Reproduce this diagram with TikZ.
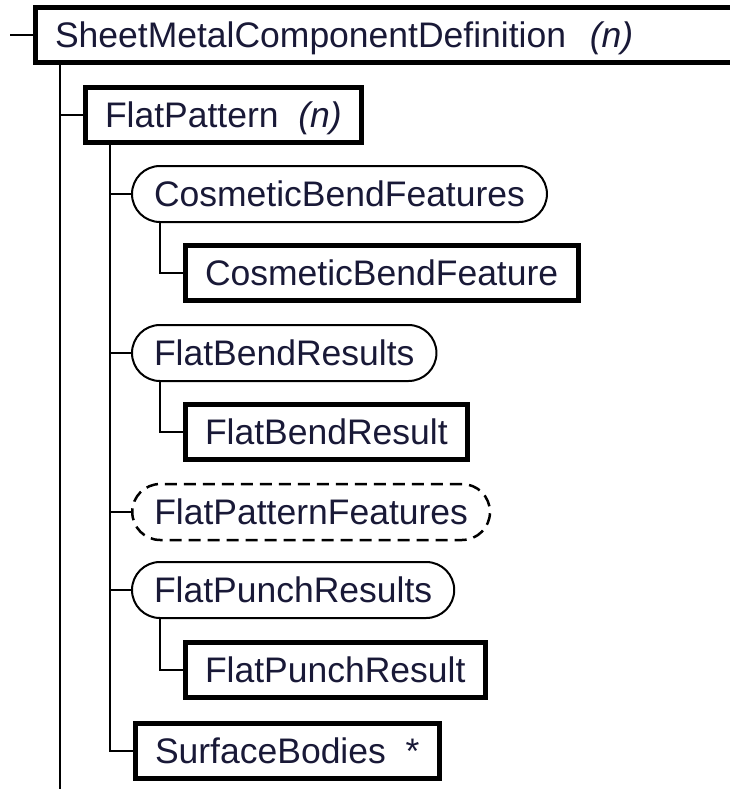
\documentclass[tikz,border=0pt]{standalone}
\usepackage{fontspec}
\setmainfont{Liberation Sans}
\definecolor{ink}{RGB}{25,25,55}
\begin{document}
\begin{tikzpicture}[x=1pt, y=-1pt,
    every node/.style={anchor=west, text=ink, font=\fontsize{35.5}{40}\selectfont,
        text height=25pt, text depth=0pt},
    elem/.style={draw, line width=5pt, inner xsep=20pt, minimum height=55pt},
    group/.style={draw, line width=2pt, inner xsep=22pt, minimum height=56pt, rounded corners=28pt},
    optgroup/.style={group, dash pattern=on 12pt off 7pt, line width=2.5pt},
    link/.style={line width=2pt}]
    \clip (0,0) rectangle (730,789);
    % tree of elements
    \node[elem, text width=700pt, align=left] (root) at (32.5,35) {SheetMetalComponentDefinition\ \ \textit{(n)}};
    \node[elem] (fp) at (82.5,115) {FlatPattern\ \ \textit{(n)}};
    \node[group] (cbfs) at (131,194) {CosmeticBendFeatures};
    \node[elem] (cbf) at (182.5,273) {CosmeticBendFeature};
    \node[group] (fbrs) at (131,353) {FlatBendResults};
    \node[elem] (fbr) at (182.5,432) {FlatBendResult};
    \node[optgroup] (fpf) at (131,512) {FlatPatternFeatures};
    \node[group] (fprs) at (131,590) {FlatPunchResults};
    \node[elem] (fpr) at (182.5,670) {FlatPunchResult};
    \node[elem] (sb) at (132.5,751) {SurfaceBodies\ \ *};
    \coordinate (lead) at (10,35);
    \coordinate (trunk) at (60,800);
    % connectors
    \draw[link] (lead) -- (root.west);
    \draw[link] ([xshift=27.5pt]root.south west) -- (trunk);
    \draw[link] ([xshift=27.5pt]root.south west) |- (fp.west);
    \foreach \c in {cbfs,fbrs,fpf,fprs,sb}
        \draw[link] ([xshift=27.5pt]fp.south west) |- (\c.west);
    \draw[link] ([xshift=29pt]cbfs.south west) |- (cbf.west);
    \draw[link] ([xshift=29pt]fbrs.south west) |- (fbr.west);
    \draw[link] ([xshift=29pt]fprs.south west) |- (fpr.west);
\end{tikzpicture}
\end{document}
